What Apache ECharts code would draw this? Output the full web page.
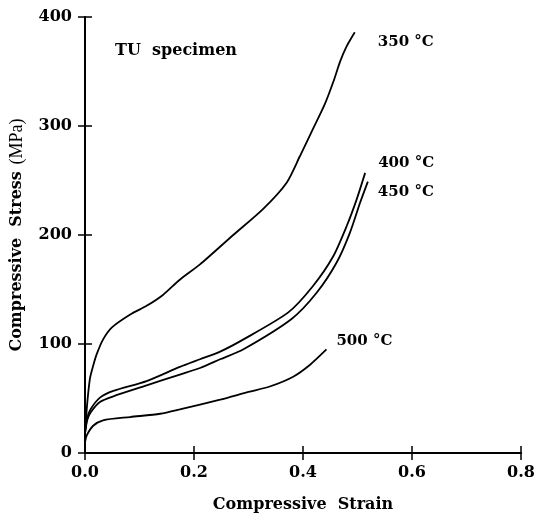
<!DOCTYPE html>
<html>
<head>
<meta charset="utf-8">
<script src="https://cdn.jsdelivr.net/npm/echarts@6/dist/echarts.min.js"></script>
<style>
  html, body { margin: 0; padding: 0; background: #fff; }
  #chart { width: 540px; height: 518px; }
</style>
</head>
<body>
<div id="chart"></div>
<script>
// curves: [strain, stress MPa]
var curve350 = [[0, 18], [0.004, 45], [0.009, 68], [0.015, 80], [0.021, 90], [0.033, 104],
    [0.049, 115], [0.083, 127], [0.113, 135], [0.143, 145], [0.174, 159], [0.211, 173],
    [0.272, 200], [0.327, 224], [0.37, 248], [0.394, 272], [0.419, 298], [0.44, 320],
    [0.456, 341], [0.468, 359], [0.48, 373], [0.495, 386]];
var curve400 = [[0, 18], [0.004, 32], [0.01, 40], [0.028, 51], [0.052, 57], [0.113, 66],
    [0.174, 79], [0.211, 86], [0.248, 93], [0.29, 104], [0.373, 129], [0.418, 153],
    [0.455, 180], [0.48, 208], [0.498, 232], [0.514, 257]];
var curve450 = [[0, 18], [0.004, 30], [0.01, 37], [0.028, 47], [0.052, 52], [0.113, 62],
    [0.174, 72], [0.211, 78], [0.248, 86], [0.29, 95], [0.379, 123], [0.425, 147],
    [0.462, 175], [0.486, 202], [0.505, 230], [0.519, 249]];
var curve500 = [[0, 10], [0.003, 16], [0.015, 25], [0.033, 30], [0.083, 33], [0.138, 36],
    [0.174, 40], [0.248, 49], [0.3, 56], [0.339, 61], [0.382, 70], [0.413, 81], [0.443, 95]];

var curveNames = ['350 °C', '400 °C', '450 °C', '500 °C'];
var curves = [curve350, curve400, curve450, curve500];
var labelOffsets = [[15, 10], [5, -10], [2, 11], [2, -8]];

var serif = 'DejaVu Serif';

var chart = echarts.init(document.getElementById('chart'));

var tickStyle = { show: true, inside: true, length: 7, lineStyle: { color: '#000', width: 1.5 } };
var lineStyle = { show: true, lineStyle: { color: '#000', width: 2 } };

var series = curves.map(function (c, i) {
    return {
        name: curveNames[i],
        type: 'line',
        data: c,
        smooth: 0.25,
        showSymbol: false,
        lineStyle: { color: '#000', width: 1.8 },
        endLabel: {
            show: true,
            formatter: curveNames[i],
            offset: labelOffsets[i],
            fontFamily: serif,
            fontWeight: 'bold',
            fontSize: 15,
            color: '#000'
        }
    };
});

var option = {
    animation: false,
    grid: { left: 85, right: 19, top: 17, bottom: 64 },
    xAxis: [{
        type: 'value', min: 0, max: 0.8, interval: 0.2,
        name: 'Compressive  Strain',
        nameLocation: 'middle',
        nameGap: 44,
        nameTextStyle: { fontFamily: serif, fontWeight: 'bold', fontSize: 16, color: '#000' },
        axisLine: lineStyle,
        axisTick: tickStyle,
        splitLine: { show: false },
        axisLabel: {
            margin: 12, fontFamily: serif, fontWeight: 'bold', fontSize: 16, color: '#000',
            formatter: function (v) { return v.toFixed(1); }
        }
    }, {
        type: 'value', min: 0, max: 0.8, interval: 0.2, position: 'top',
        axisLine: lineStyle, axisTick: tickStyle, splitLine: { show: false },
        axisLabel: { show: false }
    }],
    yAxis: [{
        type: 'value', min: 0, max: 400, interval: 100,
        name: '{b|Compressive  Stress}  {r|(MPa)}',
        nameLocation: 'middle',
        nameGap: 59,
        nameTextStyle: {
            color: '#000',
            rich: {
                b: { fontFamily: serif, fontWeight: 'bold', fontSize: 16, color: '#000' },
                r: { fontFamily: 'Liberation Serif', fontSize: 18, color: '#000' }
            }
        },
        axisLine: lineStyle,
        axisTick: tickStyle,
        splitLine: { show: false },
        axisLabel: { margin: 13, fontFamily: serif, fontWeight: 'bold', fontSize: 16, color: '#000' }
    }, {
        type: 'value', min: 0, max: 400, interval: 100, position: 'right',
        axisLine: lineStyle, axisTick: tickStyle, splitLine: { show: false },
        axisLabel: { show: false }
    }],
    graphic: [{
        type: 'text',
        left: 115,
        top: 43,
        style: {
            text: 'TU  specimen',
            fontFamily: serif,
            fontWeight: 'bold',
            fontSize: 16,
            fill: '#000'
        }
    }],
    series: series
};

chart.setOption(option);
</script>
</body>
</html>
